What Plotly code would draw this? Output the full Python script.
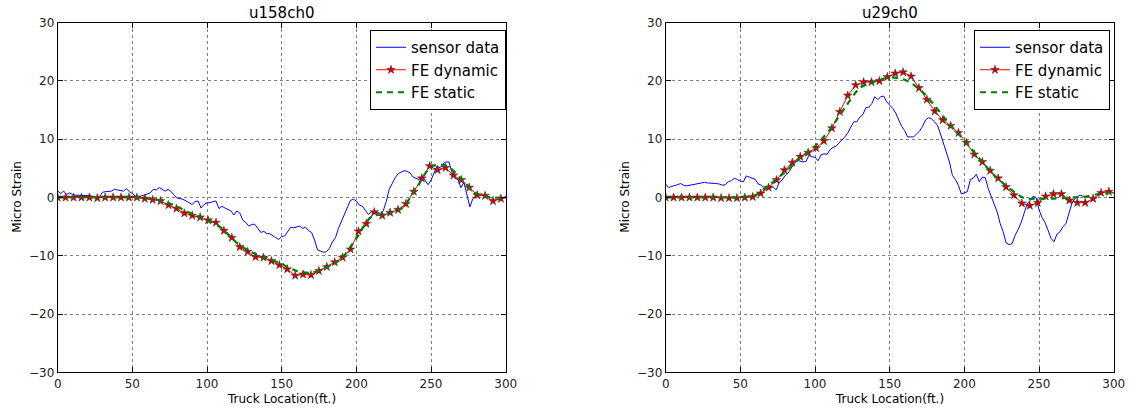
import plotly.graph_objects as go

# ---- data -------------------------------------------------------------
# sensor readings every 2 ft from 0 to 280 ft
sensor_x = list(range(0, 282, 2))

sensor_u158 = [
    1.1, 0.7, 1.1, 0.5, 0.8, 0.5, 0.4, 0.4, 0.3, 0.3,
    0.3, 0.3, 0.1, 0.0, 0.1, 0.9, 1.0, 1.1, 1.1, 1.4,
    1.3, 1.1, 1.1, 1.5, 1.0, 0.7, 0.2, 0.0, 0.3, 0.4,
    0.6, 0.8, 1.4, 1.3, 1.7, 1.4, 1.1, 1.4, 1.0, 0.4,
    -0.1, -0.2, -0.3, -0.6, -0.9, -1.2, -0.7, -0.6, -1.8, -1.2,
    -0.9,
    -0.9, -0.7, -0.6, -1.9, -1.5, -1.8, -2.1, -2.3, -3.0, -2.3,
    -2.7, -3.9, -4.3, -4.9, -4.6, -4.6, -5.3, -6.0, -5.8, -6.2,
    -6.2, -6.6, -6.9, -7.2, -6.7, -6.6, -5.8, -5.1, -5.2, -5.1,
    -4.9, -5.3, -5.1, -5.7, -6.0, -7.3, -9.0, -9.2, -9.4, -9.3,
    -8.7, -7.6, -6.9, -5.3, -4.1, -3.0, -1.9, -0.5, -0.3, -0.6,
    -1.3, -1.5, -2.2, -2.9, -2.5, -2.5, -2.6, -2.7, -2.3, -0.7,
    1.4, 2.4, 3.4, 4.1, 4.4, 4.6, 4.5, 4.2, 3.5, 3.3,
    3.1, 3.7, 3.0, 2.2, 3.0, 4.3, 5.4, 5.1, 5.8, 6.1,
    6.1, 4.3, 3.3, 3.1, 1.7, 2.6, 0.4, -1.6, -0.2, 0.3,
]

sensor_u29 = [
    2.3, 1.7, 1.9, 2.0, 2.2, 2.4, 2.1, 2.0, 2.1, 2.2,
    2.4, 2.4, 2.6, 2.6, 2.5, 2.5, 2.4, 2.4, 2.3, 2.1,
    2.2, 2.7, 2.9, 3.3, 3.1, 2.8, 2.7, 3.7, 3.5, 3.3,
    3.1, 2.3, 2.1, 1.7, 1.7, 1.8, 1.8, 1.3, 2.6, 3.0,
    3.8, 4.2, 5.1, 5.8, 6.4, 6.2, 6.1, 6.2, 7.3, 7.0,
    6.9,
    6.3, 7.3, 7.5, 7.4, 8.2, 8.6, 8.8, 9.4, 9.9, 10.4,
    11.1, 12.1, 13.0, 13.0, 13.8, 14.2, 15.4, 15.5, 16.1, 17.3,
    16.8, 17.3, 17.4, 16.4, 15.8, 15.3, 14.5, 13.3, 12.2, 11.5,
    10.4, 10.4, 10.4, 10.9, 11.4, 12.2, 13.3, 13.7, 13.5, 13.0,
    12.4, 10.9, 9.3, 7.7, 6.1, 3.8, 3.1, 2.1, 0.6, 0.8,
    1.0, 3.1, 3.3, 4.0, 2.7, 3.5, 3.4, 1.5, 0.2, -1.3,
    -2.5, -4.5, -5.9, -7.8, -8.1, -7.9, -6.5, -5.5, -4.3, -2.7,
    -1.1, -0.5, 0.2, 0.0, -2.1, -3.4, -4.3, -5.6, -7.0, -7.6,
    -6.3, -5.9, -5.0, -4.5, -2.9, -1.0, -0.2, 0.2, 0.4, 0.1,
]

# finite-element dynamic response, one node every 5.3 ft
fe_dyn_x = [round(5.3 * i, 2) for i in range(58)]

fe_dyn_u158 = [
    0, 0, 0, 0, 0, -0.1, 0, 0, 0, 0, 0,
    -0.2, -0.4, -0.6, -1.3, -1.9, -2.7, -3.1, -3.4, -3.9, -4.3,
    -5.7, -6.9, -8.5, -9.3, -10.2, -10.3, -10.9, -11.6, -12.3, -13.4,
    -13.2, -13.3, -12.6, -11.9, -11.1, -10.3, -8.9, -5.8, -4.5, -2.5,
    -3.1, -2.6, -2.1, -1.1, 1.0, 3.3, 5.4, 4.7, 5.1, 3.8,
    3.0, 1.7, 0.4, 0.3, -0.6, -0.2, 0,
]

fe_dyn_u29 = [
    0, 0, 0, 0, 0, 0, 0, -0.1, -0.1, -0.1, 0,
    0.1, 0.7, 1.7, 3.0, 4.7, 6.0, 7.0, 7.7, 8.5, 9.7,
    11.9, 14.7, 17.5, 19.3, 19.8, 19.8, 20.0, 20.7, 21.3, 21.5,
    20.8, 18.8, 16.8, 14.8, 13.3, 12.3, 11.1, 9.4, 7.4, 6.1,
    4.6, 3.3, 1.8, 0.4, -1.0, -1.4, -0.9, 0.2, 0.6, 0.6,
    -0.5, -0.9, -0.9, -0.2, 0.8, 1.0, 0.6,
]

# finite-element static influence line, every 10 ft
fe_static_x = list(range(0, 310, 10))

fe_static_u158 = [
    0, 0, 0, 0, 0, 0, -0.1, -0.6, -1.6, -2.8, -3.8,
    -5.3, -7.8, -9.4, -10.4, -11.4, -12.6, -12.9, -12.0, -10.5, -7.0,
    -3.3, -2.8, -1.9, 1.5, 5.3, 5.5, 3.3, 0.7, 0, 0,
]

fe_static_u29 = [
    0, 0, 0, 0, 0, 0, 0.4, 2.3, 4.4, 6.8, 8.8,
    11.7, 15.4, 18.8, 19.9, 20.6, 20.2, 18.6, 15.8, 12.6, 9.8,
    6.7, 3.8, 1.6, -0.1, -0.2, -0.2, 0, 0.1, 0.6, 0.8,
]

titles = ["u158ch0", "u29ch0"]
x_ticks = [0, 50, 100, 150, 200, 250, 300]
y_ticks = [-30, -20, -10, 0, 10, 20, 30]

# ---- figure geometry (pixels) ----------------------------------------
W, H = 1136, 411
plot_top, plot_bottom = 22.7, 372.3
panels = [(57.7, 505.7), (665.7, 1113.7)]


def fx(px):
    return px / W


def fy(py):
    return 1 - py / H


FONT = "DejaVu Sans"
fig = go.Figure()

panel_data = [
    (sensor_u158, fe_dyn_u158, fe_static_u158),
    (sensor_u29, fe_dyn_u29, fe_static_u29),
]

for k, (sens, dyn, stat) in enumerate(panel_data):
    xa = "x" if k == 0 else "x2"
    ya = "y" if k == 0 else "y2"
    lg = "legend" if k == 0 else "legend2"
    fig.add_trace(go.Scatter(
        x=sensor_x, y=sens, mode="lines", name="sensor data",
        line=dict(color="#0000ff", width=1), xaxis=xa, yaxis=ya, legend=lg))
    fig.add_trace(go.Scatter(
        x=fe_dyn_x, y=dyn, mode="lines+markers", name="FE dynamic",
        line=dict(color="#ff0000", width=1),
        marker=dict(symbol="star", size=6.5, color="#d40000",
                    line=dict(color="#303030", width=0.5)),
        xaxis=xa, yaxis=ya, legend=lg))
    fig.add_trace(go.Scatter(
        x=fe_static_x, y=stat, mode="lines", name="FE static",
        line=dict(color="#008000", width=2.2, dash="6px,5px",
                  shape="spline", smoothing=0.8),
        xaxis=xa, yaxis=ya, legend=lg))

axis_common = dict(
    showline=True, linecolor="black", linewidth=1, mirror="ticks",
    ticks="inside", ticklen=5, tickcolor="black", tickwidth=1,
    showgrid=True, gridcolor="#7f7f7f", gridwidth=1, griddash="dot",
    zeroline=False, automargin=False,
    tickfont=dict(family=FONT, size=12, color="#222"),
)

layout_axes = {}
for k, (x0, x1) in enumerate(panels):
    sx = "" if k == 0 else "2"
    layout_axes["xaxis" + sx] = dict(
        axis_common, domain=[fx(x0), fx(x1)], range=[0, 300],
        tickvals=x_ticks, anchor="y" + sx)
    layout_axes["yaxis" + sx] = dict(
        axis_common, domain=[fy(plot_bottom), fy(plot_top)], range=[-30, 30],
        tickvals=y_ticks, anchor="x" + sx)

annotations = []
for k, (x0, x1) in enumerate(panels):
    cx = (x0 + x1) / 2
    annotations.append(dict(
        text=titles[k], x=fx(cx), y=fy(13), xref="paper", yref="paper",
        showarrow=False, xanchor="center", yanchor="middle",
        font=dict(family=FONT, size=15, color="black")))
    annotations.append(dict(
        text="Truck Location(ft.)", x=fx(cx), y=fy(399), xref="paper",
        yref="paper", showarrow=False, xanchor="center", yanchor="middle",
        font=dict(family=FONT, size=12, color="black")))
    annotations.append(dict(
        text="Micro Strain", x=fx(x0 - 41), y=fy(197), xref="paper",
        yref="paper", showarrow=False, textangle=-90,
        xanchor="center", yanchor="middle",
        font=dict(family=FONT, size=12, color="black")))

legend_common = dict(
    xanchor="right", yanchor="top", bgcolor="white",
    bordercolor="black", borderwidth=1,
    font=dict(family=FONT, size=15, color="black"),
    tracegroupgap=0, itemwidth=30,
)

fig.update_layout(
    width=W, height=H,
    margin=dict(l=0, r=0, t=0, b=0),
    paper_bgcolor="white", plot_bgcolor="white",
    showlegend=True,
    legend=dict(legend_common, x=fx(506), y=fy(30)),
    legend2=dict(legend_common, x=fx(1110), y=fy(30)),
    annotations=annotations,
    **layout_axes,
)

fig.write_html("out.html")
